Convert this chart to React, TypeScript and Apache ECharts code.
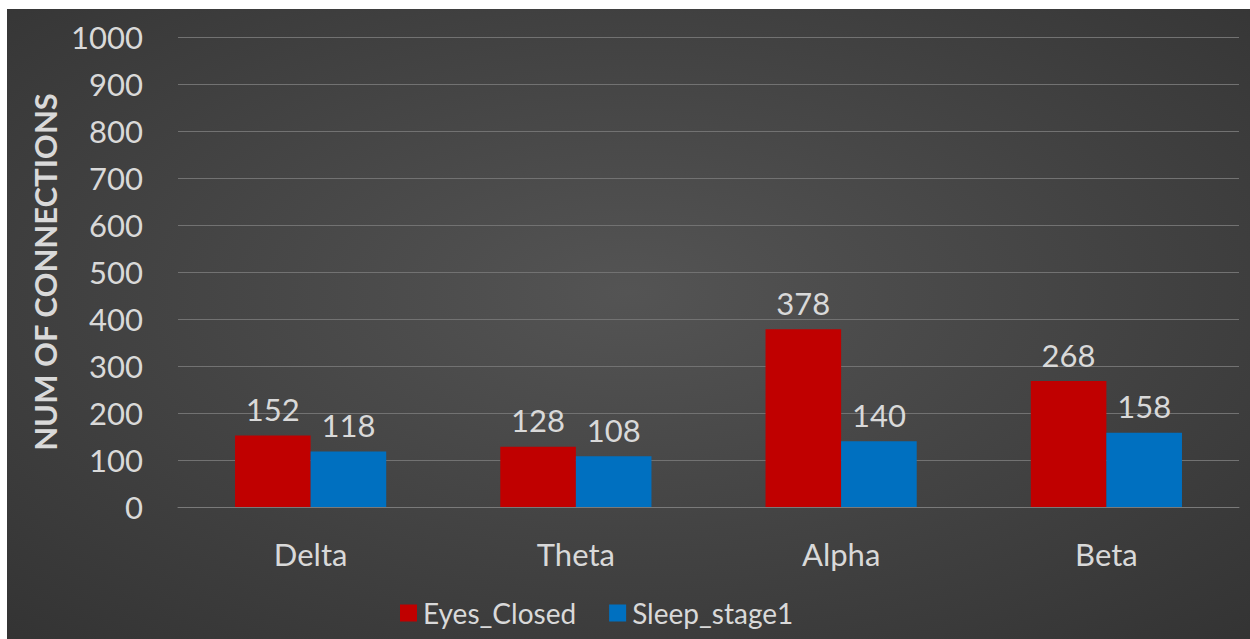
import React, { useEffect, useRef } from "react";
import * as echarts from "echarts";

const categories = ["Delta", "Theta", "Alpha", "Beta"];
const eyesClosed = [152, 128, 378, 268];
const sleepStage1 = [118, 108, 140, 158];
const seriesNames = ["Eyes_Closed", "Sleep_stage1"];
const yTitle = "NUM OF CONNECTIONS";

export default function App() {
  const ref = useRef<HTMLDivElement>(null);
  useEffect(() => {
    if (!ref.current) return;
    const chart = echarts.init(ref.current, undefined, { renderer: "svg" });
    const font = "Lato, 'Open Sans', sans-serif";
    const txt = "#d9d9d9";
    const lbl = { show: true, position: "top", distance: 11, color: txt, fontFamily: font, fontSize: 31 };
    chart.setOption({
      animation: false,
      backgroundColor: "#2b2b2b",
      graphic: [
        {
          type: "rect",
          left: 0,
          top: 0,
          z: -10,
          silent: true,
          shape: { x: 0, y: 0, width: 1243, height: 630 },
          style: {
            fill: {
              type: "radial",
              x: 0.5,
              y: 0.45,
              r: 1.05,
              colorStops: [
                { offset: 0, color: "#545454" },
                { offset: 1, color: "#262626" },
              ],
            },
          },
        },
      ],
      grid: { left: 171, right: 11, top: 28, bottom: 132 },
      legend: {
        left: 388,
        top: 585,
        itemWidth: 17,
        itemHeight: 17,
        itemGap: 33,
        icon: "rect",
        textStyle: { color: txt, fontFamily: font, fontSize: 28, padding: [0, 0, 0, 1] },
        data: seriesNames,
      },
      xAxis: {
        type: "category",
        data: categories,
        axisLine: { show: true, lineStyle: { color: "#7a7a7a", width: 1 } },
        axisTick: { show: false },
        axisLabel: { color: txt, fontFamily: font, fontSize: 31, margin: 31 },
      },
      yAxis: {
        type: "value",
        min: 0,
        max: 1000,
        interval: 100,
        name: yTitle,
        nameLocation: "middle",
        nameGap: 117,
        nameTextStyle: { color: txt, fontFamily: font, fontSize: 31, fontWeight: "bold" },
        axisLine: { show: false },
        axisTick: { show: false },
        axisLabel: {
          color: txt,
          fontFamily: font,
          fontSize: 31,
          margin: 35,
          formatter: (v: number) => String(v),
        },
        splitLine: { lineStyle: { color: "#727272", width: 1 } },
      },
      series: [
        {
          name: seriesNames[0],
          type: "bar",
          data: eyesClosed,
          barGap: "0%",
          barCategoryGap: "43%",
          itemStyle: { color: "#c00000" },
          label: lbl,
        },
        {
          name: seriesNames[1],
          type: "bar",
          data: sleepStage1,
          barGap: "0%",
          barCategoryGap: "43%",
          itemStyle: { color: "#0070c0" },
          label: lbl,
        },
      ],
    });
    return () => chart.dispose();
  }, []);
  return (
    <div
      ref={ref}
      style={{ position: "fixed", left: 7, top: 9, width: 1243, height: 630 }}
    />
  );
}
